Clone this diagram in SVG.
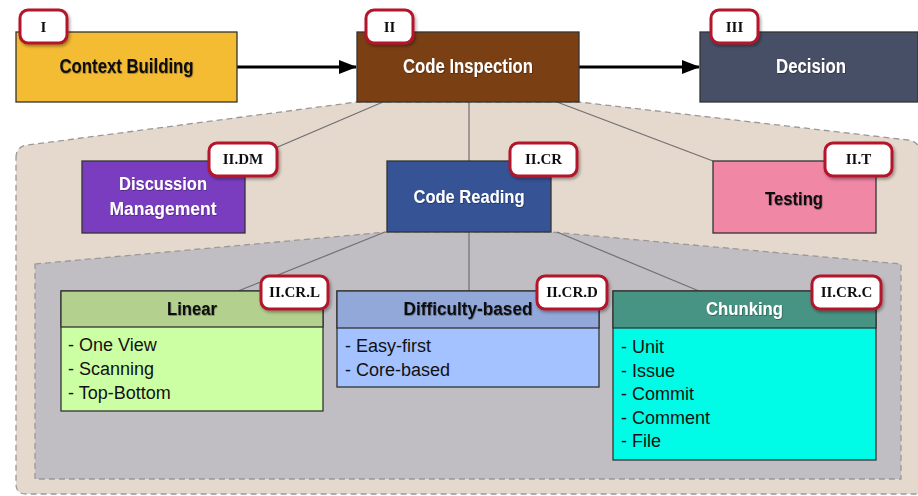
<svg xmlns="http://www.w3.org/2000/svg" width="918" height="496" viewBox="0 0 918 496">
<defs>
<filter id="sh" x="-20%" y="-20%" width="150%" height="160%">
<feDropShadow dx="1.5" dy="2" stdDeviation="1.5" flood-color="#000" flood-opacity="0.35"/>
</filter>
<filter id="ts" x="-10%" y="-20%" width="120%" height="150%">
<feDropShadow dx="0.6" dy="0.8" stdDeviation="0.5" flood-color="#000" flood-opacity="0.4"/>
</filter>
<marker id="ah" markerWidth="18" markerHeight="14" refX="17" refY="7" orient="auto" markerUnits="userSpaceOnUse" viewBox="0 0 18 14">
<path d="M0,0 L18,7 L0,14 Z" fill="#000"/>
</marker>
</defs>
<style>
.box{stroke:#333;stroke-width:1.3}
.t{font-family:"Liberation Sans Narrow","Liberation Sans",Arial,sans-serif;font-weight:bold;text-anchor:middle;filter:url(#ts)}
.tw{fill:#fff}
.tb{fill:#111}
.badge rect{fill:#fff;stroke:#B3132B;stroke-width:3}
.badge text{font-family:"Liberation Serif","Times New Roman",serif;font-weight:bold;font-size:15px;fill:#111;text-anchor:middle}
.li{font-family:"Liberation Sans",Arial,sans-serif;font-size:18px;fill:#111}
.con{stroke:#707070;stroke-width:1.2;fill:none}
.arr{stroke:#000;stroke-width:3;fill:none}
.region{stroke:#999;stroke-width:1.3;stroke-dasharray:6 4}
</style>
<rect width="918" height="496" fill="#fff"/>

<g id="regions">
<path class="region" fill="#E5D8CC" d="M16,158 Q16,146 28,145 L357,102 L579,102 L908,140 Q921,142 921,156 L921,494 L26,494 Q16,494 16,484 Z"/>
<path class="region" fill="#C0BEC3" d="M35,264 L387,232 L551,232 L901,264 L901,479 L35,479 Z"/>
</g>

<g id="connectors">
<line class="arr" x1="237" y1="67" x2="356" y2="67" marker-end="url(#ah)"/>
<line class="arr" x1="579" y1="67" x2="699" y2="67" marker-end="url(#ah)"/>
<line class="con" x1="383" y1="102" x2="245" y2="161"/>
<line class="con" x1="469" y1="102" x2="469" y2="161"/>
<line class="con" x1="557" y1="102" x2="713" y2="161"/>
<line class="con" x1="385" y1="232" x2="238" y2="291"/>
<line class="con" x1="469" y1="232" x2="469" y2="291"/>
<line class="con" x1="557" y1="232" x2="699" y2="291"/>
</g>

<g id="context-building">
<rect class="box" x="16" y="32" width="221" height="70" fill="#F4BC33"/>
<text class="t tb" x="126.5" y="73" font-size="20" textLength="134" lengthAdjust="spacingAndGlyphs">Context Building</text>
<g class="badge" filter="url(#sh)"><rect x="20" y="10" width="47" height="33" rx="8"/><text x="43.5" y="32">I</text></g>
</g>

<g id="code-inspection">
<rect class="box" x="357" y="32" width="222" height="70" fill="#7B3F14"/>
<text class="t tw" x="468" y="73" font-size="20" textLength="130" lengthAdjust="spacingAndGlyphs">Code Inspection</text>
<g class="badge" filter="url(#sh)"><rect x="366" y="10" width="47" height="33" rx="8"/><text x="389.5" y="32">II</text></g>
</g>

<g id="decision">
<rect class="box" x="700" y="32" width="218" height="70" fill="#474F66"/>
<text class="t tw" x="811" y="73" font-size="20" textLength="70" lengthAdjust="spacingAndGlyphs">Decision</text>
<g class="badge" filter="url(#sh)"><rect x="711" y="10" width="47" height="33" rx="8"/><text x="734.5" y="32">III</text></g>
</g>

<g id="discussion-management">
<rect class="box" x="82" y="161" width="163" height="72" fill="#7B3DC0"/>
<text class="t tw" x="163" y="190" font-size="19" textLength="88" lengthAdjust="spacingAndGlyphs">Discussion</text>
<text class="t tw" x="163" y="215" font-size="19" textLength="107" lengthAdjust="spacingAndGlyphs">Management</text>
<g class="badge" filter="url(#sh)"><rect x="209" y="143" width="68" height="33" rx="8"/><text x="243" y="164">II.DM</text></g>
</g>

<g id="code-reading">
<rect class="box" x="387" y="161" width="164" height="71" fill="#365396"/>
<text class="t tw" x="469" y="203" font-size="19" textLength="111" lengthAdjust="spacingAndGlyphs">Code Reading</text>
<g class="badge" filter="url(#sh)"><rect x="510" y="143" width="67" height="33" rx="8"/><text x="543.5" y="164">II.CR</text></g>
</g>

<g id="testing">
<rect class="box" x="713" y="161" width="163" height="72" fill="#EF87A5"/>
<text class="t tb" x="794" y="205" font-size="19" textLength="58" lengthAdjust="spacingAndGlyphs">Testing</text>
<g class="badge" filter="url(#sh)"><rect x="825" y="143" width="67" height="33" rx="8"/><text x="858.5" y="164">II.T</text></g>
</g>

<g id="linear">
<rect class="box" x="61" y="291" width="262" height="120" fill="#CCFFA3"/>
<rect class="box" x="61" y="291" width="262" height="36" fill="#B3D08E"/>
<text class="t tb" x="192" y="315" font-size="18" textLength="50" lengthAdjust="spacingAndGlyphs">Linear</text>
<text class="li" x="68" y="351">- One View</text>
<text class="li" x="68" y="375">- Scanning</text>
<text class="li" x="68" y="399">- Top-Bottom</text>
<g class="badge" filter="url(#sh)"><rect x="261" y="276" width="67" height="33" rx="8"/><text x="294.5" y="297">II.CR.L</text></g>
</g>

<g id="difficulty-based">
<rect class="box" x="337" y="291" width="262" height="96" fill="#A4C2FF"/>
<rect class="box" x="337" y="291" width="262" height="37" fill="#91A8D9"/>
<text class="t tb" x="468" y="315" font-size="18" textLength="129" lengthAdjust="spacingAndGlyphs">Difficulty-based</text>
<text class="li" x="345" y="352">- Easy-first</text>
<text class="li" x="345" y="376">- Core-based</text>
<g class="badge" filter="url(#sh)"><rect x="537" y="276" width="70" height="33" rx="8"/><text x="572" y="297">II.CR.D</text></g>
</g>

<g id="chunking">
<rect class="box" x="613" y="291" width="263" height="169" fill="#00FCE6"/>
<rect class="box" x="613" y="291" width="263" height="37" fill="#479484"/>
<text class="t tw" x="744.5" y="315" font-size="18" textLength="77" lengthAdjust="spacingAndGlyphs">Chunking</text>
<text class="li" x="621" y="353">- Unit</text>
<text class="li" x="621" y="377">- Issue</text>
<text class="li" x="621" y="400">- Commit</text>
<text class="li" x="621" y="424">- Comment</text>
<text class="li" x="621" y="447">- File</text>
<g class="badge" filter="url(#sh)"><rect x="812" y="276" width="69" height="33" rx="8"/><text x="846.5" y="297">II.CR.C</text></g>
</g>
</svg>
